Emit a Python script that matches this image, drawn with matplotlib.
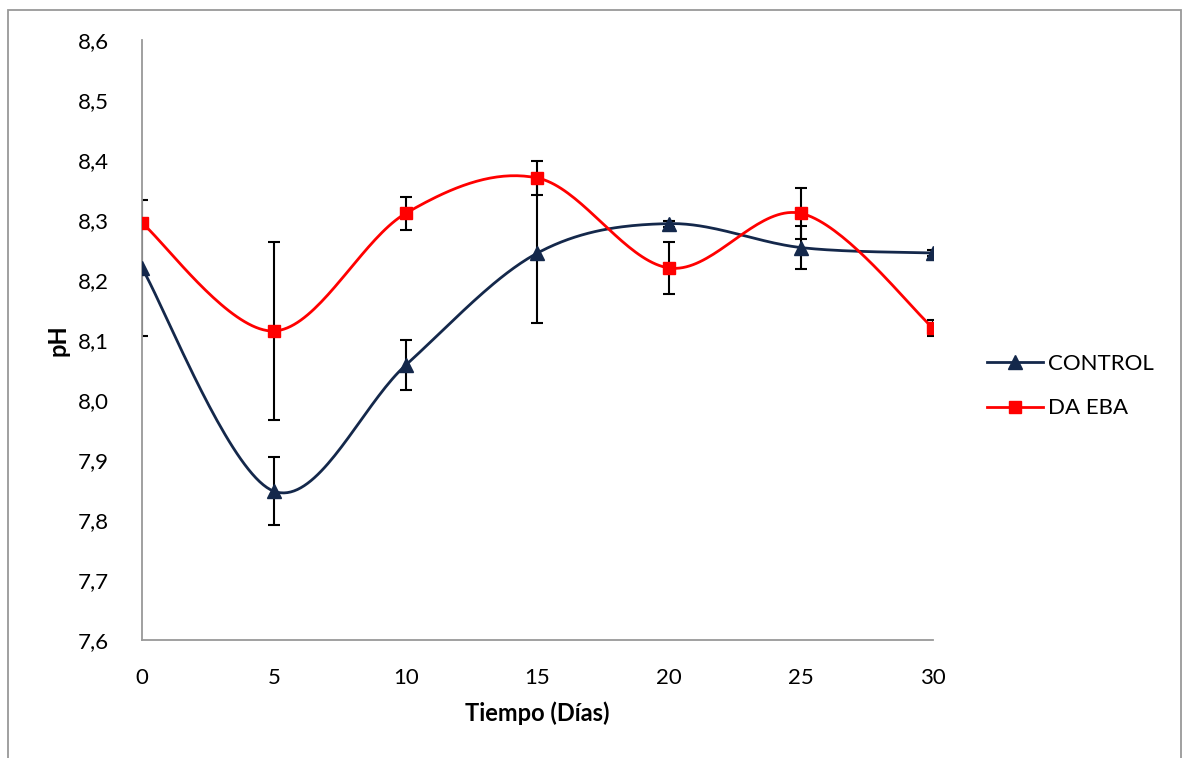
import numpy as np
import matplotlib.pyplot as plt
from matplotlib.patches import Rectangle

# dias de muestreo y valores de pH
dias = [0, 5, 10, 15, 20, 25, 30]
ph_control = [8.22, 7.848, 8.058, 8.245, 8.294, 8.254, 8.245]
err_control = [0.113, 0.057, 0.042, 0.117, 0.005, 0.036, 0.005]
ph_da_eba = [8.295, 8.115, 8.311, 8.37, 8.22, 8.311, 8.12]
err_da_eba = [0.0, 0.148, 0.028, 0.028, 0.043, 0.042, 0.013]

ticks_y = [7.6, 7.7, 7.8, 7.9, 8.0, 8.1, 8.2, 8.3, 8.4, 8.5, 8.6]


def suavizar(x, y, n=40):
    # curva suavizada tipo Excel (Bezier cubica entre puntos)
    x = np.asarray(x, float)
    y = np.asarray(y, float)
    px = np.concatenate([[x[0]], x, [x[-1]]])
    py = np.concatenate([[y[0]], y, [y[-1]]])
    xs, ys = [], []
    t = np.linspace(0, 1, n)
    for i in range(1, len(px) - 2):
        p0 = np.array([px[i], py[i]])
        p3 = np.array([px[i + 1], py[i + 1]])
        p1 = p0 + (np.array([px[i + 1], py[i + 1]]) - np.array([px[i - 1], py[i - 1]])) / 6
        p2 = p3 - (np.array([px[i + 2], py[i + 2]]) - np.array([px[i], py[i]])) / 6
        b = ((1 - t) ** 3)[:, None] * p0 + (3 * (1 - t) ** 2 * t)[:, None] * p1 \
            + (3 * (1 - t) * t ** 2)[:, None] * p2 + (t ** 3)[:, None] * p3
        xs.extend(b[:, 0])
        ys.extend(b[:, 1])
    return xs, ys


plt.rcParams['font.family'] = ['Lato', 'DejaVu Sans']

fig = plt.figure(figsize=(11.83, 7.58), dpi=100)
ax = fig.add_axes([0.12, 0.1557, 0.6687, 0.7915])

azul = '#14284b'
rojo = '#ff0000'

ax.errorbar(dias, ph_control, yerr=err_control, fmt='none', ecolor='black',
            elinewidth=1.5, capsize=4.5, capthick=1.5, zorder=2)
ax.errorbar(dias, ph_da_eba, yerr=err_da_eba, fmt='none', ecolor='black',
            elinewidth=1.5, capsize=4.5, capthick=1.5, zorder=2)

xs, ys = suavizar(dias, ph_control)
ax.plot(xs, ys, color=azul, lw=2, zorder=3)
xs, ys = suavizar(dias, ph_da_eba)
ax.plot(xs, ys, color=rojo, lw=2, zorder=3)

ax.plot(dias, ph_control, linestyle='none', marker='^', ms=10.5, color=azul, zorder=4)
ax.plot(dias, ph_da_eba, linestyle='none', marker='s', ms=8.5, color=rojo, zorder=4)

# entradas de la leyenda
ax.plot([], [], color=azul, lw=2, marker='^', ms=10.5, label='CONTROL')
ax.plot([], [], color=rojo, lw=2, marker='s', ms=8.5, label='DA EBA')

ax.set_xlim(0, 30)
ax.set_ylim(7.6, 8.6)
ax.set_xticks(dias)
ax.set_yticks(ticks_y)
ax.set_yticklabels([f'{v:.1f}'.replace('.', ',') for v in ticks_y])
ax.tick_params(axis='both', length=0, labelsize=16, colors='black')
ax.tick_params(axis='y', pad=24)
ax.tick_params(axis='x', pad=20)

for s in ['top', 'right']:
    ax.spines[s].set_visible(False)
for s in ['left', 'bottom']:
    ax.spines[s].set_color('#999999')
    ax.spines[s].set_linewidth(1.3)

ax.set_xlabel('Tiempo (Días)', fontsize=17, fontweight='bold', labelpad=10)
ax.set_ylabel('pH', fontsize=17, fontweight='bold', labelpad=6)

ax.legend(loc='center left', bbox_to_anchor=(1.043, 0.423), frameon=False,
          fontsize=16, handlelength=2.5, labelspacing=1.1, handletextpad=0.25)

# marco exterior
fig.patches.append(Rectangle((8 / 1183, -0.1), 1173 / 1183, 1.1 - 10 / 758,
                             transform=fig.transFigure, fill=False,
                             edgecolor='#999999', lw=1.3))

plt.savefig('out.png', dpi=100)
